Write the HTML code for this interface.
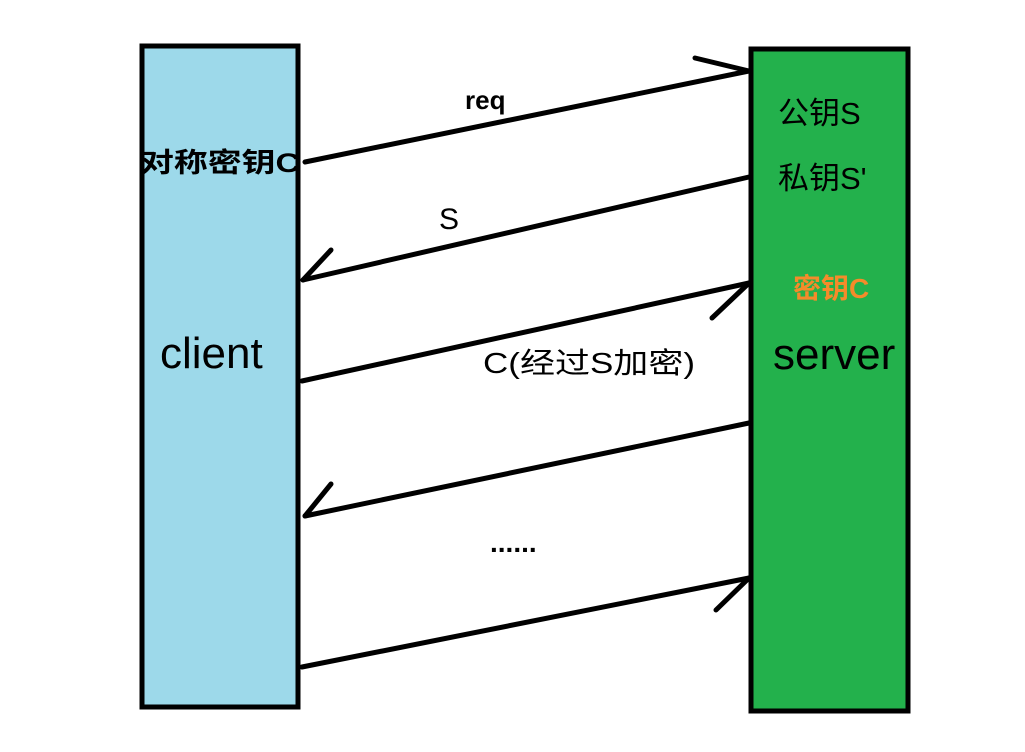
<!DOCTYPE html>
<html><head><meta charset="utf-8"><style>
body{margin:0;background:#fff;}
svg text{font-family:"Liberation Sans","Noto Sans CJK SC",sans-serif;}
</style></head><body>
<svg width="1025" height="747" viewBox="0 0 1025 747" xmlns="http://www.w3.org/2000/svg">
<rect x="142" y="46" width="156" height="661" fill="#9dd9ea" stroke="#000" stroke-width="5"/>
<rect x="751" y="49" width="157" height="662" fill="#23b14c" stroke="#000" stroke-width="5"/>
<g stroke="#000" stroke-width="5" stroke-linecap="round" fill="none">
<line x1="305" y1="162" x2="749" y2="71"/><line x1="695" y1="58" x2="749" y2="71"/>
<line x1="749" y1="177" x2="303" y2="280"/><line x1="303" y1="280" x2="331" y2="250"/>
<line x1="302" y1="381" x2="749" y2="283"/><line x1="712" y1="318" x2="749" y2="283"/>
<line x1="749" y1="423" x2="305" y2="516"/><line x1="305" y1="516" x2="331" y2="484"/>
<line x1="302" y1="667" x2="749" y2="578"/><line x1="716" y1="610" x2="749" y2="578"/>
</g>
<text x="465" y="109" font-size="26" font-weight="bold">req</text>
<text x="140" y="172" font-size="27" font-weight="bold" textLength="160" lengthAdjust="spacingAndGlyphs">对称密钥C</text>
<text x="439" y="229" font-size="30">S</text>
<text x="160" y="368" font-size="44">client</text>
<text x="483" y="373" font-size="29" textLength="212" lengthAdjust="spacingAndGlyphs">C(经过S加密)</text>
<text x="490" y="552" font-size="28" font-weight="bold">......</text>
<text x="778" y="124" font-size="31">公钥S</text>
<text x="778" y="189" font-size="31">私钥S'</text>
<text x="793" y="298" font-size="28" font-weight="bold" fill="#f58b2a">密钥C</text>
<text x="773" y="369" font-size="44">server</text>
</svg>
</body></html>
